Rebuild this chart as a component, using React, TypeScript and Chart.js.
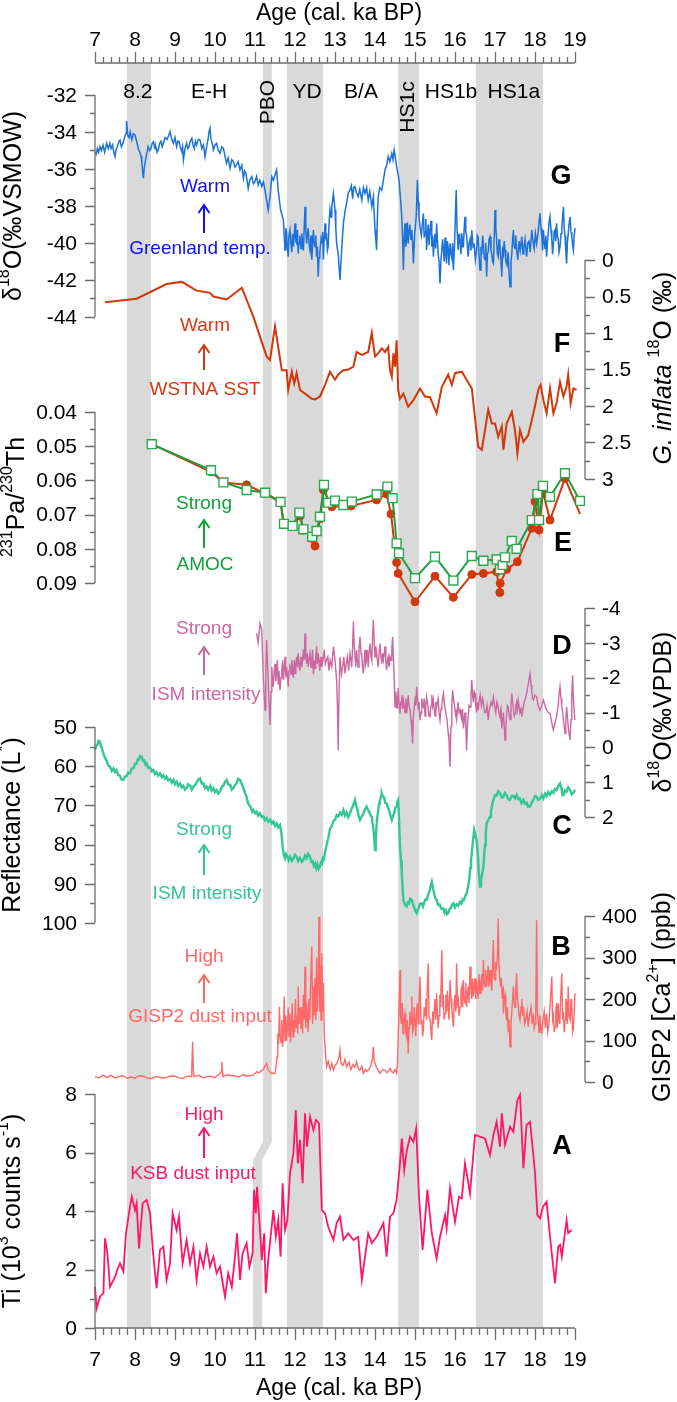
import React, { useEffect, useRef } from 'react';
import { Chart, registerables } from 'chart.js';

Chart.register(...registerables);

const FONT = '"Liberation Sans", Arial, Helvetica, sans-serif';
const W = 677;
const H = 1402;

// ---------------- data ----------------
const ageTicks = [7, 8, 9, 10, 11, 12, 13, 14, 15, 16, 17, 18, 19];

// G: Greenland d18O (permil VSMOW)
const greenlandD18O: number[][] = [
  [7.0, -35.06], [7.03, -35.2], [7.06, -34.9], [7.09, -35.1], [7.125, -34.79], [7.16, -35.0], [7.2, -34.7],
  [7.24, -35.1], [7.29, -34.61], [7.33, -34.9], [7.37, -34.6], [7.4, -34.9], [7.44, -34.7], [7.47, -35.1],
  [7.5, -35.33], [7.53, -34.9], [7.56, -34.8], [7.6, -34.5], [7.625, -34.43], [7.66, -34.8], [7.7, -34.6],
  [7.74, -34.3], [7.775, -34.07], [7.79, -33.41], [7.82, -34.2], [7.85, -34.3], [7.88, -34.0], [7.92, -34.43],
  [7.96, -34.1], [8.0, -34.16], [8.04, -34.5], [8.08, -34.88], [8.12, -35.1], [8.15, -35.3], [8.17, -35.6],
  [8.19, -36.1], [8.21, -36.5], [8.23, -36.0], [8.25, -35.69], [8.29, -35.2], [8.33, -34.79], [8.37, -35.0],
  [8.4, -34.9], [8.43, -34.6], [8.46, -34.52], [8.5, -34.9], [8.52, -34.8], [8.55, -35.1], [8.58, -34.97],
  [8.62, -34.6], [8.65, -34.5], [8.68, -34.8], [8.71, -34.61], [8.75, -34.3], [8.8, -34.4], [8.84, -34.2],
  [8.875, -33.98], [8.92, -34.4], [8.96, -34.61], [9.0, -34.3], [9.04, -34.79], [9.07, -34.5], [9.1, -34.5],
  [9.13, -34.8], [9.17, -35.06], [9.19, -34.8], [9.21, -35.51], [9.25, -34.9], [9.29, -34.61], [9.32, -34.9],
  [9.35, -34.8], [9.38, -34.5], [9.42, -34.34], [9.45, -34.7], [9.48, -34.9], [9.51, -34.5], [9.54, -34.7],
  [9.58, -34.4], [9.625, -34.43], [9.67, -34.9], [9.71, -34.7], [9.73, -35.0], [9.75, -35.33], [9.79, -34.8],
  [9.83, -34.34], [9.85, -34.0], [9.875, -33.8], [9.9, -34.4], [9.93, -34.6], [9.96, -34.97], [10.0, -34.7],
  [10.04, -34.61], [10.08, -35.0], [10.125, -35.15], [10.17, -34.8], [10.21, -34.88], [10.25, -35.3],
  [10.29, -35.69], [10.33, -35.4], [10.375, -35.96], [10.42, -35.5], [10.46, -35.6], [10.5, -35.9],
  [10.54, -35.78], [10.58, -35.6], [10.625, -36.05], [10.67, -35.8], [10.71, -36.5], [10.74, -36.1],
  [10.77, -36.2], [10.8, -36.6], [10.83, -37.05], [10.87, -36.6], [10.92, -36.41], [10.96, -36.8], [11.0, -36.68],
  [11.04, -36.4], [11.08, -36.86], [11.12, -36.6], [11.17, -36.95], [11.21, -36.7], [11.25, -37.14],
  [11.29, -37.68], [11.33, -38.22], [11.375, -37.5], [11.42, -36.41], [11.46, -36.6], [11.5, -36.32],
  [11.54, -36.05], [11.58, -37.14], [11.64, -38.22], [11.71, -38.76], [11.75, -40.38], [11.77, -39.2],
  [11.79, -39.48], [11.81, -40.2], [11.83, -40.74], [11.85, -39.6], [11.875, -39.3], [11.9, -40.1],
  [11.92, -40.5], [11.94, -39.5], [11.96, -40.2], [11.98, -39.6], [12.0, -38.94], [12.02, -39.9], [12.04, -40.0],
  [12.06, -39.3], [12.08, -40.56], [12.1, -40.0], [12.12, -39.6], [12.15, -40.3], [12.17, -39.48], [12.19, -40.1],
  [12.21, -40.4], [12.23, -39.2], [12.25, -38.04], [12.27, -39.3], [12.29, -40.02], [12.31, -39.5], [12.33, -39.2],
  [12.35, -40.0], [12.375, -40.38], [12.4, -39.6], [12.42, -40.9], [12.44, -40.1], [12.46, -39.3], [12.48, -40.0],
  [12.5, -40.2], [12.52, -39.6], [12.54, -40.74], [12.56, -40.2], [12.58, -41.82], [12.6, -40.8], [12.62, -40.5],
  [12.65, -39.8], [12.67, -40.02], [12.69, -39.4], [12.71, -40.9], [12.73, -39.8], [12.75, -38.94], [12.77, -39.7],
  [12.79, -39.6], [12.81, -40.4], [12.83, -40.2], [12.85, -39.0], [12.875, -38.2], [12.9, -38.6], [12.92, -38.04],
  [12.96, -37.32], [13.0, -38.22], [13.02, -39.2], [13.04, -40.02], [13.08, -40.6], [13.125, -42.0],
  [13.17, -40.2], [13.21, -38.94], [13.25, -38.3], [13.29, -37.86], [13.33, -37.3], [13.375, -37.14],
  [13.41, -36.9], [13.44, -37.6], [13.47, -37.0], [13.5, -36.95], [13.54, -37.3], [13.58, -37.5], [13.62, -37.1],
  [13.67, -37.68], [13.71, -37.0], [13.75, -37.32], [13.79, -37.0], [13.83, -37.68], [13.87, -37.2],
  [13.92, -38.04], [13.96, -37.5], [14.0, -39.3], [14.02, -39.8], [14.04, -40.38], [14.06, -38.6], [14.08, -37.5],
  [14.12, -37.0], [14.17, -37.14], [14.21, -36.6], [14.25, -36.05], [14.29, -35.8], [14.33, -35.33],
  [14.37, -35.6], [14.42, -35.15], [14.45, -35.5], [14.48, -34.97], [14.51, -35.4], [14.54, -35.87],
  [14.57, -36.2], [14.6, -36.59], [14.63, -37.4], [14.67, -38.58], [14.69, -39.8], [14.71, -41.46],
  [14.73, -39.6], [14.75, -38.94], [14.77, -40.2], [14.79, -39.8], [14.81, -38.9], [14.83, -40.02],
  [14.87, -39.0], [14.9, -39.8], [14.92, -39.3], [14.94, -40.0], [14.96, -41.1], [14.99, -39.6], [15.03, -38.58],
  [15.06, -36.59], [15.08, -37.8], [15.1, -38.58], [15.13, -39.2], [15.16, -39.6], [15.19, -38.8], [15.21, -38.4],
  [15.23, -39.7], [15.25, -39.4], [15.27, -38.7], [15.29, -40.38], [15.31, -39.6], [15.33, -39.0], [15.35, -40.1],
  [15.375, -39.3], [15.4, -38.8], [15.42, -40.2], [15.44, -39.6], [15.46, -40.74], [15.48, -40.0], [15.5, -39.5],
  [15.52, -40.3], [15.54, -38.94], [15.56, -39.8], [15.58, -40.6], [15.6, -41.0], [15.625, -42.18],
  [15.65, -40.9], [15.67, -40.9], [15.69, -39.8], [15.71, -40.38], [15.73, -41.0], [15.75, -39.7],
  [15.77, -40.6], [15.79, -41.1], [15.81, -39.9], [15.83, -40.3], [15.85, -41.2], [15.875, -40.02],
  [15.9, -40.6], [15.92, -40.8], [15.94, -40.0], [15.96, -41.46], [15.99, -40.0], [16.01, -38.5], [16.03, -37.14],
  [16.05, -39.2], [16.08, -40.38], [16.1, -39.5], [16.12, -39.8], [16.15, -40.6], [16.17, -39.48], [16.19, -40.2],
  [16.21, -40.2], [16.23, -39.2], [16.25, -38.58], [16.27, -39.4], [16.29, -39.6], [16.31, -40.2], [16.33, -40.74],
  [16.35, -40.0], [16.375, -39.8], [16.4, -40.4], [16.42, -39.3], [16.45, -40.2], [16.48, -40.1], [16.51, -40.9],
  [16.54, -40.38], [16.56, -39.6], [16.58, -39.7], [16.6, -40.6], [16.625, -41.46], [16.65, -40.2],
  [16.67, -40.6], [16.69, -39.6], [16.71, -40.02], [16.73, -40.8], [16.75, -40.9], [16.77, -40.0],
  [16.79, -41.82], [16.81, -40.6], [16.83, -40.5], [16.85, -39.8], [16.875, -39.66], [16.9, -40.4],
  [16.92, -40.6], [16.94, -41.0], [16.96, -41.1], [16.98, -39.8], [17.0, -38.22], [17.02, -39.2], [17.04, -39.8],
  [17.06, -40.6], [17.08, -40.74], [17.1, -39.8], [17.12, -40.1], [17.15, -41.0], [17.17, -41.82], [17.19, -40.4],
  [17.21, -40.6], [17.23, -39.9], [17.25, -40.38], [17.27, -41.0], [17.3, -41.2], [17.33, -40.5], [17.35, -41.6],
  [17.375, -42.36], [17.4, -41.0], [17.42, -40.6], [17.44, -39.8], [17.46, -39.3], [17.48, -40.2], [17.5, -40.3],
  [17.52, -39.6], [17.54, -40.38], [17.57, -40.9], [17.6, -39.9], [17.63, -40.4], [17.67, -39.66], [17.7, -40.6],
  [17.72, -40.3], [17.75, -39.8], [17.79, -40.74], [17.82, -40.0], [17.85, -39.9], [17.88, -40.5], [17.92, -39.3],
  [17.95, -39.9], [17.98, -40.3], [18.01, -39.5], [18.04, -40.02], [18.06, -39.7], [18.08, -39.4], [18.1, -38.9],
  [18.125, -38.4], [18.15, -39.2], [18.17, -39.6], [18.19, -40.4], [18.21, -39.3], [18.23, -39.9], [18.25, -40.3],
  [18.27, -39.6], [18.29, -40.74], [18.31, -40.0], [18.33, -39.5], [18.35, -38.9], [18.375, -38.58], [18.4, -39.3],
  [18.42, -39.8], [18.44, -40.6], [18.46, -40.02], [18.48, -39.4], [18.5, -39.3], [18.52, -39.9], [18.54, -38.94],
  [18.56, -39.6], [18.58, -39.8], [18.6, -40.5], [18.625, -40.2], [18.65, -39.5], [18.67, -39.2], [18.69, -38.6],
  [18.71, -38.04], [18.73, -39.2], [18.75, -39.6], [18.77, -40.4], [18.79, -41.1], [18.81, -40.0], [18.83, -39.5],
  [18.85, -39.0], [18.875, -38.58], [18.9, -39.4], [18.92, -39.6], [18.94, -40.1], [18.96, -40.38], [18.98, -39.6],
  [19.0, -39.2], [19.02, -38.8], [19.04, -38.4], [19.06, -39.0], [19.08, -39.2], [19.1, -38.7], [19.125, -39.84],
];

// F: G. inflata d18O (permil)
const inflataD18O: number[][] = [
  [7.25, 0.58], [8.04, 0.53], [8.79, 0.33], [9.17, 0.3], [9.54, 0.42], [9.67, 0.43], [9.875, 0.45], [9.96, 0.5],
  [10.29, 0.54], [10.67, 0.38], [10.96, 0.78], [11.29, 1.32], [11.375, 1.37], [11.5, 0.91], [11.67, 1.51],
  [11.79, 1.51], [11.83, 1.78], [11.92, 1.53], [11.98, 1.69], [12.04, 1.55], [12.125, 1.78], [12.25, 1.83],
  [12.42, 1.9], [12.5, 1.91], [12.625, 1.87], [12.75, 1.71], [12.875, 1.53], [13.0, 1.64], [13.08, 1.57],
  [13.21, 1.51], [13.33, 1.5], [13.46, 1.46], [13.54, 1.26], [13.67, 1.3], [13.83, 1.26], [13.92, 1.0],
  [14.0, 1.32], [14.08, 1.28], [14.17, 1.21], [14.25, 1.26], [14.33, 1.19], [14.375, 1.51], [14.42, 1.6],
  [14.46, 1.28], [14.5, 1.46], [14.54, 1.1], [14.58, 1.78], [14.625, 1.9], [14.71, 1.83], [14.83, 2.01],
  [14.96, 1.92], [15.125, 1.76], [15.25, 1.87], [15.375, 1.88], [15.54, 2.1], [15.67, 1.74], [15.83, 1.57],
  [15.92, 1.71], [16.0, 1.55], [16.17, 1.53], [16.29, 1.64], [16.42, 1.76], [16.58, 2.56], [16.67, 2.6],
  [16.75, 2.33], [16.83, 2.05], [16.92, 2.24], [17.0, 2.24], [17.08, 2.42], [17.17, 2.28], [17.21, 2.6],
  [17.29, 2.24], [17.42, 2.08], [17.5, 2.33], [17.56, 2.65], [17.625, 2.33], [17.71, 2.49], [17.83, 2.4],
  [17.92, 2.19], [18.0, 2.0], [18.08, 1.78], [18.14, 1.71], [18.21, 1.92], [18.29, 2.1], [18.375, 1.76],
  [18.46, 2.1], [18.54, 1.96], [18.625, 1.67], [18.71, 1.87], [18.79, 1.73], [18.83, 1.57], [18.89, 1.96],
  [18.96, 1.76], [19.04, 1.78], [19.125, 1.87],
];

// E: 231Pa/230Th, two records
const paThGreen: number[][] = [
  [8.42, 0.0494], [9.9, 0.057], [10.21, 0.0606], [10.79, 0.0628], [11.25, 0.0636], [11.64, 0.0663], [11.725, 0.0727],
  [11.94, 0.0733], [12.11, 0.0694], [12.21, 0.0743], [12.43, 0.0765], [12.54, 0.0748], [12.625, 0.0706],
  [12.725, 0.0613], [12.83, 0.0665], [13.0, 0.0659], [13.21, 0.0672], [13.42, 0.0662], [14.04, 0.0641],
  [14.31, 0.0618], [14.44, 0.0652], [14.54, 0.0784], [14.6, 0.0813], [15.0, 0.0886], [15.5, 0.0823],
  [15.96, 0.0893], [16.42, 0.0821], [16.71, 0.0835], [17.04, 0.0831], [17.125, 0.086], [17.19, 0.0847],
  [17.25, 0.0825], [17.42, 0.0777], [17.54, 0.08], [17.92, 0.0716], [18.06, 0.064], [18.1, 0.0716],
  [18.2, 0.0616], [18.375, 0.0648], [18.75, 0.0579], [19.125, 0.066],
];
const paThRed: number[][] = [
  [8.42, 0.0494], [9.9, 0.0575], [10.21, 0.0606], [10.79, 0.0613], [11.25, 0.0638], [11.64, 0.0665], [11.71, 0.0725],
  [11.94, 0.0735], [12.125, 0.0704], [12.21, 0.0745], [12.43, 0.077], [12.5, 0.0792], [12.625, 0.0712],
  [12.71, 0.0628], [12.92, 0.0677], [13.4, 0.0675], [14.04, 0.0657], [14.29, 0.064], [14.4, 0.0698],
  [14.54, 0.084], [14.58, 0.0872], [15.0, 0.0955], [15.5, 0.088], [15.96, 0.0942], [16.42, 0.0875],
  [16.71, 0.0872], [17.04, 0.0867], [17.12, 0.0928], [17.13, 0.0901], [17.29, 0.086], [17.56, 0.0838],
  [17.92, 0.074], [18.0, 0.0662], [18.1, 0.0745], [18.2, 0.0633], [18.375, 0.0716], [18.75, 0.0594],
  [19.125, 0.0698],
];

// D: speleothem d18O (permil VPDB)
const ismD18O: number[][] = [
  [11.04, -3.27], [11.08, -3.0], [11.125, -3.56], [11.17, -3.37], [11.19, -2.6], [11.21, -1.93], [11.25, -1.07],
  [11.27, -2.2], [11.29, -3.08], [11.31, -2.5], [11.33, -1.93], [11.35, -1.3], [11.375, -0.64], [11.4, -1.6],
  [11.42, -2.31], [11.44, -1.9], [11.46, -1.74], [11.48, -2.2], [11.5, -2.4], [11.52, -1.9], [11.54, -2.12],
  [11.56, -2.5], [11.58, -1.8], [11.6, -2.2], [11.625, -1.64], [11.65, -2.0], [11.67, -2.2], [11.69, -2.5],
  [11.71, -1.93], [11.73, -2.3], [11.75, -2.6], [11.77, -2.0], [11.79, -2.31], [11.81, -2.1], [11.83, -1.74],
  [11.85, -2.2], [11.87, -2.4], [11.9, -2.1], [11.92, -2.51], [11.94, -2.2], [11.96, -2.0], [11.98, -2.5],
  [12.0, -2.12], [12.02, -2.4], [12.04, -2.6], [12.06, -2.3], [12.08, -2.7], [12.1, -2.4], [12.12, -2.2],
  [12.15, -2.6], [12.17, -2.31], [12.19, -2.5], [12.21, -2.8], [12.23, -2.5], [12.25, -3.27], [12.27, -2.6],
  [12.29, -2.4], [12.31, -2.7], [12.33, -2.31], [12.35, -2.5], [12.375, -2.7], [12.4, -2.3], [12.42, -2.51],
  [12.44, -2.8], [12.46, -2.1], [12.48, -2.5], [12.5, -2.27], [12.52, -2.6], [12.54, -2.9], [12.56, -2.4],
  [12.58, -2.7], [12.6, -2.5], [12.62, -2.2], [12.65, -2.6], [12.67, -2.31], [12.7, -2.5], [12.73, -2.8],
  [12.76, -2.4], [12.79, -2.51], [12.82, -2.6], [12.85, -2.2], [12.88, -2.5], [12.92, -2.31], [12.96, -2.89],
  [13.0, -2.5], [13.04, -1.93], [13.06, -1.2], [13.08, 0.08], [13.1, -1.5], [13.125, -2.6], [13.16, -2.1],
  [13.19, -2.3], [13.22, -2.6], [13.25, -2.12], [13.28, -2.4], [13.31, -2.6], [13.34, -2.2], [13.375, -2.7],
  [13.4, -2.5], [13.42, -2.3], [13.44, -2.9], [13.46, -3.61], [13.48, -2.9], [13.5, -2.6], [13.52, -2.3],
  [13.54, -2.79], [13.56, -2.5], [13.58, -2.3], [13.6, -2.8], [13.625, -3.17], [13.65, -2.7], [13.67, -2.6],
  [13.69, -2.3], [13.71, -2.12], [13.73, -2.5], [13.75, -2.8], [13.77, -2.4], [13.79, -2.51], [13.81, -2.8],
  [13.83, -2.3], [13.85, -2.7], [13.875, -2.98], [13.9, -2.6], [13.92, -2.5], [13.94, -3.2], [13.96, -3.66],
  [13.98, -3.0], [14.0, -2.6], [14.02, -2.9], [14.04, -2.7], [14.06, -2.5], [14.08, -2.3], [14.1, -2.7],
  [14.125, -2.98], [14.15, -2.6], [14.17, -2.4], [14.19, -2.7], [14.21, -2.51], [14.23, -2.7], [14.25, -2.9],
  [14.27, -2.5], [14.29, -2.22], [14.31, -2.5], [14.33, -2.6], [14.35, -2.3], [14.375, -2.6], [14.4, -2.5],
  [14.42, -2.8], [14.44, -3.17], [14.46, -2.6], [14.48, -1.93], [14.5, -1.16], [14.52, -1.6], [14.54, -1.36],
  [14.56, -1.1], [14.58, -1.7], [14.6, -1.3], [14.625, -0.97], [14.65, -1.3], [14.67, -1.5], [14.69, -1.1],
  [14.71, -1.36], [14.73, -1.2], [14.75, -1.0], [14.77, -1.4], [14.79, -0.97], [14.81, -1.2], [14.83, -1.5],
  [14.85, -1.2], [14.875, -1.07], [14.9, -0.8], [14.92, -0.5], [14.94, -0.11], [14.96, -0.9], [15.0, -1.36],
  [15.02, -1.2], [15.04, -1.74], [15.06, -1.4], [15.08, -1.1], [15.1, -1.3], [15.125, -0.78], [15.15, -1.0],
  [15.17, -1.4], [15.19, -1.2], [15.21, -1.16], [15.23, -1.4], [15.25, -0.9], [15.27, -1.2], [15.29, -1.45],
  [15.31, -1.3], [15.33, -1.1], [15.35, -0.9], [15.375, -0.88], [15.4, -1.2], [15.42, -1.5], [15.44, -1.2],
  [15.46, -1.36], [15.48, -1.1], [15.5, -0.9], [15.52, -1.3], [15.54, -1.16], [15.56, -1.3], [15.58, -1.4],
  [15.6, -1.0], [15.625, -0.78], [15.65, -1.1], [15.67, -1.2], [15.69, -1.4], [15.71, -1.55], [15.74, -1.2],
  [15.77, -1.0], [15.8, -0.8], [15.83, -0.4], [15.85, -0.2], [15.875, 0.56], [15.9, -0.6], [15.92, -1.2],
  [15.94, -1.64], [15.97, -1.3], [16.0, -1.1], [16.02, -0.9], [16.04, -0.78], [16.06, -1.1], [16.08, -1.3],
  [16.1, -1.0], [16.125, -1.07], [16.15, -0.9], [16.17, -0.8], [16.19, -1.1], [16.21, -0.54], [16.23, -0.8],
  [16.25, -1.0], [16.27, -0.6], [16.29, 0.08], [16.31, -0.6], [16.33, -0.9], [16.35, -1.2], [16.375, -1.16],
  [16.4, -1.5], [16.42, -1.93], [16.44, -1.5], [16.46, -1.3], [16.48, -1.6], [16.5, -1.55], [16.52, -1.2],
  [16.54, -1.0], [16.56, -1.3], [16.58, -1.07], [16.6, -1.3], [16.63, -1.5], [16.66, -1.2], [16.69, -1.4],
  [16.71, -1.26], [16.74, -1.0], [16.77, -1.0], [16.8, -1.2], [16.83, -0.78], [16.86, -1.1], [16.9, -1.3],
  [16.93, -1.2], [16.96, -1.45], [16.99, -1.2], [17.02, -1.0], [17.05, -1.3], [17.08, -1.16], [17.1, -1.0],
  [17.12, -0.9], [17.15, -1.1], [17.17, -0.54], [17.19, -0.8], [17.21, -1.0], [17.23, -0.6], [17.25, -0.21],
  [17.27, -0.6], [17.29, -0.9], [17.31, -1.2], [17.33, -1.16], [17.35, -1.0], [17.375, -0.8], [17.4, -1.2],
  [17.42, -1.55], [17.44, -1.3], [17.46, -1.1], [17.48, -0.9], [17.5, -0.97], [17.52, -1.2], [17.54, -1.3],
  [17.56, -1.1], [17.58, -1.36], [17.6, -1.2], [17.625, -1.0], [17.65, -1.1], [17.67, -0.88], [17.7, -1.1],
  [17.73, -1.3], [17.76, -1.4], [17.79, -1.55], [17.83, -1.8], [17.875, -2.12], [17.9, -1.8], [17.92, -1.6],
  [17.94, -1.4], [17.96, -1.36], [18.0, -1.5], [18.04, -1.45], [18.08, -1.2], [18.125, -1.07], [18.17, -1.2],
  [18.21, -1.36], [18.25, -1.2], [18.29, -1.07], [18.33, -1.0], [18.375, -0.97], [18.42, -0.7], [18.46, -0.49],
  [18.5, -0.7], [18.54, -0.88], [18.58, -1.2], [18.6, -1.5], [18.625, -1.74], [18.65, -1.4], [18.67, -1.2],
  [18.69, -1.0], [18.71, -0.78], [18.73, -0.6], [18.75, -0.4], [18.77, -0.8], [18.79, -1.16], [18.81, -0.9],
  [18.83, -0.6], [18.85, -0.4], [18.875, -0.21], [18.9, -0.8], [18.92, -1.5], [18.94, -2.07], [18.96, -1.4],
  [18.98, -1.0], [19.0, -0.78], [19.02, -1.0], [19.04, -1.16], [19.06, -0.8], [19.08, -0.54], [19.1, -1.3],
  [19.11, -0.5], [19.125, 1.05],
];

// C: reflectance L*
const reflectance: number[][] = [
  [7.0, 55.9], [7.03, 54.8], [7.06, 54.6], [7.09, 53.5], [7.125, 53.7], [7.15, 55.0], [7.17, 55.4], [7.19, 56.2],
  [7.21, 56.7], [7.25, 57.9], [7.29, 58.6], [7.33, 59.8], [7.375, 60.1], [7.42, 61.2], [7.46, 60.6], [7.5, 61.5],
  [7.54, 61.0], [7.58, 62.2], [7.62, 62.4], [7.66, 63.4], [7.71, 63.5], [7.75, 62.6], [7.79, 62.6], [7.83, 61.6],
  [7.875, 61.8], [7.92, 60.6], [7.96, 60.5], [8.0, 59.4], [8.04, 59.3], [8.07, 58.2], [8.1, 58.3], [8.13, 57.4],
  [8.17, 57.6], [8.2, 58.6], [8.23, 58.5], [8.26, 59.6], [8.29, 59.3], [8.33, 60.4], [8.38, 60.4], [8.42, 61.3],
  [8.46, 61.0], [8.5, 62.0], [8.54, 61.6], [8.58, 62.4], [8.625, 61.8], [8.67, 62.8], [8.71, 62.3], [8.75, 63.2],
  [8.79, 62.7], [8.83, 63.6], [8.88, 63.3], [8.92, 64.2], [8.96, 63.5], [9.0, 64.6], [9.04, 64.0], [9.08, 65.0],
  [9.125, 64.4], [9.17, 65.4], [9.21, 65.0], [9.25, 66.0], [9.29, 65.6], [9.33, 64.6], [9.38, 65.0], [9.42, 66.0],
  [9.46, 65.2], [9.5, 64.8], [9.54, 64.2], [9.58, 63.4], [9.625, 63.1], [9.67, 64.4], [9.71, 64.4], [9.75, 65.6],
  [9.79, 65.2], [9.83, 66.0], [9.88, 65.0], [9.92, 66.2], [9.96, 65.6], [10.0, 66.6], [10.04, 66.1], [10.08, 67.0],
  [10.125, 66.5], [10.17, 65.2], [10.21, 65.0], [10.25, 64.0], [10.29, 63.5], [10.33, 64.6], [10.38, 64.8],
  [10.42, 66.0], [10.46, 65.6], [10.5, 64.8], [10.54, 64.4], [10.58, 63.2], [10.625, 63.5], [10.67, 64.6],
  [10.71, 65.6], [10.75, 66.8], [10.79, 67.8], [10.81, 68.8], [10.83, 69.5], [10.87, 70.2], [10.9, 70.6],
  [10.93, 71.6], [10.96, 71.2], [11.0, 72.0], [11.04, 71.6], [11.08, 72.6], [11.125, 72.0], [11.17, 73.0],
  [11.21, 72.8], [11.25, 73.8], [11.29, 73.3], [11.33, 74.2], [11.38, 73.6], [11.42, 74.6], [11.46, 74.1],
  [11.5, 75.2], [11.54, 74.6], [11.58, 75.6], [11.625, 75.0], [11.66, 77.0], [11.69, 80.5], [11.72, 82.6],
  [11.75, 83.5], [11.78, 82.4], [11.81, 83.0], [11.84, 84.0], [11.875, 83.1], [11.92, 84.2], [11.96, 83.6],
  [12.0, 82.6], [12.04, 83.1], [12.08, 84.2], [12.12, 83.4], [12.17, 84.4], [12.21, 83.9], [12.25, 82.8],
  [12.29, 83.5], [12.33, 82.4], [12.375, 83.1], [12.41, 84.4], [12.44, 84.2], [12.47, 85.4], [12.5, 84.8],
  [12.53, 86.0], [12.56, 85.0], [12.59, 86.2], [12.625, 85.6], [12.65, 84.6], [12.67, 84.8], [12.69, 83.6],
  [12.71, 83.9], [12.75, 82.0], [12.79, 80.1], [12.83, 78.4], [12.875, 76.0], [12.92, 75.2], [12.96, 74.0],
  [13.0, 73.6], [13.04, 72.5], [13.08, 72.8], [13.125, 71.8], [13.17, 72.4], [13.21, 71.2], [13.25, 72.6],
  [13.29, 71.8], [13.33, 73.0], [13.375, 72.0], [13.41, 71.0], [13.44, 70.3], [13.47, 69.6], [13.5, 68.6],
  [13.53, 70.2], [13.56, 71.0], [13.59, 72.6], [13.625, 73.7], [13.67, 72.8], [13.71, 72.0], [13.75, 71.0],
  [13.79, 70.3], [13.82, 71.0], [13.85, 71.5], [13.89, 72.6], [13.92, 72.9], [13.94, 74.6], [13.96, 76.0],
  [13.98, 78.5], [14.0, 81.4], [14.02, 78.0], [14.04, 75.0], [14.06, 72.8], [14.08, 71.2], [14.1, 69.6],
  [14.12, 68.9], [14.15, 67.6], [14.17, 66.9], [14.2, 67.8], [14.23, 68.0], [14.26, 69.4], [14.29, 69.5],
  [14.33, 70.8], [14.36, 71.5], [14.39, 72.8], [14.42, 73.7], [14.45, 72.6], [14.48, 72.0], [14.51, 70.6],
  [14.54, 70.3], [14.56, 69.0], [14.58, 68.6], [14.6, 73.0], [14.625, 80.5], [14.65, 84.0], [14.67, 87.3],
  [14.69, 91.0], [14.71, 94.1], [14.75, 95.4], [14.79, 95.8], [14.82, 94.8], [14.85, 95.0], [14.88, 93.8],
  [14.92, 94.1], [14.95, 95.2], [14.98, 96.0], [15.01, 97.0], [15.04, 97.5], [15.07, 96.6], [15.1, 96.0],
  [15.13, 95.0], [15.17, 95.0], [15.2, 95.8], [15.23, 94.8], [15.26, 94.0], [15.29, 94.1], [15.32, 93.0],
  [15.36, 92.0], [15.39, 90.6], [15.42, 89.5], [15.45, 91.2], [15.48, 92.5], [15.51, 93.8], [15.54, 94.1],
  [15.58, 95.4], [15.62, 95.3], [15.66, 96.4], [15.71, 96.3], [15.74, 97.4], [15.77, 96.8], [15.8, 97.8],
  [15.83, 97.5], [15.87, 96.4], [15.9, 96.2], [15.93, 95.2], [15.96, 95.0], [16.0, 96.0], [16.04, 95.2],
  [16.08, 95.6], [16.125, 94.6], [16.16, 95.0], [16.19, 94.0], [16.22, 94.2], [16.25, 93.3], [16.29, 92.4],
  [16.33, 90.7], [16.36, 88.6], [16.38, 86.0], [16.4, 84.0], [16.42, 82.2], [16.45, 79.0], [16.48, 76.3],
  [16.51, 77.6], [16.54, 78.8], [16.56, 81.0], [16.58, 84.0], [16.6, 88.0], [16.625, 90.7], [16.65, 89.2],
  [16.67, 88.0], [16.69, 86.8], [16.71, 85.6], [16.73, 82.6], [16.75, 80.0], [16.77, 77.0], [16.79, 74.6],
  [16.83, 73.8], [16.875, 72.9], [16.9, 71.4], [16.92, 70.5], [16.94, 69.2], [16.96, 68.6], [17.0, 67.4],
  [17.04, 67.5], [17.08, 66.4], [17.125, 66.9], [17.17, 68.0], [17.21, 67.8], [17.25, 66.8], [17.29, 67.4],
  [17.33, 68.4], [17.375, 68.6], [17.42, 67.6], [17.46, 67.6], [17.5, 68.2], [17.54, 67.3], [17.58, 68.4],
  [17.62, 68.2], [17.66, 69.4], [17.71, 68.6], [17.75, 69.6], [17.79, 69.3], [17.83, 70.4], [17.875, 70.3],
  [17.92, 69.2], [17.96, 68.6], [18.0, 67.6], [18.04, 67.8], [18.08, 68.6], [18.12, 68.4], [18.17, 67.4],
  [18.21, 68.2], [18.25, 67.0], [18.29, 67.6], [18.33, 66.6], [18.375, 67.3], [18.42, 66.4], [18.46, 66.8],
  [18.5, 65.8], [18.54, 66.1], [18.58, 65.0], [18.625, 64.4], [18.65, 65.4], [18.67, 66.0], [18.69, 67.4],
  [18.71, 67.3], [18.75, 66.2], [18.79, 66.5], [18.83, 65.4], [18.875, 66.1], [18.92, 67.2], [18.96, 66.8],
  [19.0, 66.0], [19.04, 66.9], [19.08, 65.8], [19.125, 66.1],
];

// B: GISP2 Ca2+ (ppb)
const gispCa: number[][] = [
  [7.0, 13], [7.1, 10], [7.2, 16], [7.3, 11], [7.4, 16], [7.5, 10], [7.58, 13], [7.7, 15], [7.8, 9], [7.9, 12],
  [8.0, 9], [8.1, 15], [8.2, 14], [8.3, 10], [8.4, 8], [8.5, 13], [8.6, 12], [8.7, 9], [8.79, 11], [8.9, 15],
  [9.0, 14], [9.1, 10], [9.2, 9], [9.3, 14], [9.4, 13], [9.42, 30], [9.44, 97], [9.46, 25], [9.48, 13], [9.6, 16],
  [9.7, 10], [9.85, 14], [10.0, 11], [10.1, 18], [10.15, 25], [10.17, 49], [10.19, 20], [10.2, 13], [10.3, 17],
  [10.46, 15], [10.6, 12], [10.7, 18], [10.8, 14], [10.96, 17], [11.05, 25], [11.1, 22], [11.2, 30], [11.29, 45],
  [11.33, 30], [11.4, 21], [11.5, 21], [11.53, 40], [11.55, 60], [11.57, 117], [11.59, 90], [11.61, 181],
  [11.63, 110], [11.65, 95], [11.67, 150], [11.69, 85], [11.71, 120], [11.73, 206], [11.75, 100], [11.77, 160],
  [11.79, 101], [11.81, 130], [11.83, 180], [11.85, 110], [11.87, 165], [11.89, 95], [11.91, 140], [11.93, 190],
  [11.95, 109], [11.97, 150], [11.99, 120], [12.01, 200], [12.03, 130], [12.05, 160], [12.07, 117], [12.08, 230],
  [12.1, 140], [12.13, 180], [12.15, 130], [12.17, 180], [12.19, 117], [12.21, 210], [12.23, 150], [12.25, 278],
  [12.27, 130], [12.29, 190], [12.31, 150], [12.33, 120], [12.35, 200], [12.37, 150], [12.39, 240], [12.42, 326],
  [12.44, 140], [12.46, 230], [12.48, 160], [12.5, 250], [12.52, 150], [12.54, 300], [12.56, 170], [12.58, 230],
  [12.6, 398], [12.62, 170], [12.64, 280], [12.65, 149], [12.67, 310], [12.69, 170], [12.71, 240], [12.73, 117],
  [12.76, 70], [12.79, 37], [12.83, 50], [12.88, 30], [12.92, 45], [12.96, 29], [13.0, 40], [13.05, 45],
  [13.1, 60], [13.125, 77], [13.15, 45], [13.2, 40], [13.25, 55], [13.29, 37], [13.35, 48], [13.4, 30],
  [13.45, 42], [13.5, 35], [13.54, 49], [13.58, 33], [13.62, 28], [13.67, 38], [13.71, 21], [13.76, 30],
  [13.8, 26], [13.85, 30], [13.9, 40], [13.94, 60], [13.96, 85], [13.98, 50], [14.04, 35], [14.08, 28],
  [14.125, 21], [14.2, 30], [14.25, 28], [14.3, 22], [14.375, 33], [14.42, 25], [14.46, 22], [14.5, 30],
  [14.54, 21], [14.56, 40], [14.58, 109], [14.6, 180], [14.625, 270], [14.64, 160], [14.66, 140], [14.68, 190],
  [14.7, 117], [14.72, 150], [14.75, 165], [14.77, 120], [14.79, 110], [14.81, 150], [14.83, 69], [14.85, 130],
  [14.87, 170], [14.9, 140], [14.92, 206], [14.94, 120], [14.96, 130], [14.98, 180], [15.0, 149], [15.02, 110],
  [15.04, 170], [15.06, 190], [15.08, 140], [15.1, 200], [15.125, 254], [15.15, 140], [15.17, 150], [15.19, 110],
  [15.21, 125], [15.23, 180], [15.25, 160], [15.27, 200], [15.29, 150], [15.31, 230], [15.33, 286], [15.35, 160],
  [15.38, 150], [15.4, 120], [15.42, 101], [15.44, 170], [15.46, 140], [15.48, 170], [15.5, 200], [15.52, 150],
  [15.54, 214], [15.56, 170], [15.58, 130], [15.6, 160], [15.62, 210], [15.64, 180], [15.67, 318], [15.69, 190],
  [15.71, 200], [15.73, 150], [15.75, 165], [15.77, 210], [15.79, 170], [15.81, 220], [15.83, 180], [15.85, 150],
  [15.875, 246], [15.9, 200], [15.92, 180], [15.94, 150], [15.96, 133], [15.98, 190], [16.0, 210], [16.02, 170],
  [16.04, 286], [16.06, 190], [16.08, 200], [16.1, 160], [16.125, 181], [16.15, 220], [16.17, 230], [16.19, 180],
  [16.21, 246], [16.23, 200], [16.25, 190], [16.27, 240], [16.29, 181], [16.31, 210], [16.33, 230], [16.35, 190],
  [16.375, 278], [16.4, 220], [16.42, 200], [16.44, 250], [16.46, 206], [16.48, 230], [16.5, 250], [16.52, 200],
  [16.54, 246], [16.56, 220], [16.58, 200], [16.6, 260], [16.625, 214], [16.65, 240], [16.67, 260], [16.69, 220],
  [16.71, 294], [16.73, 240], [16.75, 230], [16.77, 270], [16.79, 230], [16.81, 250], [16.83, 280], [16.85, 230],
  [16.875, 270], [16.9, 240], [16.92, 220], [16.94, 280], [16.96, 342], [16.98, 250], [17.0, 246], [17.02, 290],
  [17.04, 280], [17.06, 300], [17.08, 394], [17.1, 280], [17.11, 260], [17.13, 240], [17.14, 230], [17.16, 250],
  [17.18, 200], [17.2, 230], [17.21, 165], [17.23, 200], [17.25, 210], [17.27, 170], [17.29, 149], [17.31, 180],
  [17.33, 120], [17.35, 150], [17.375, 85], [17.4, 140], [17.42, 170], [17.44, 200], [17.46, 230], [17.48, 190],
  [17.5, 180], [17.52, 220], [17.54, 262], [17.56, 200], [17.58, 190], [17.6, 160], [17.625, 149], [17.65, 180],
  [17.67, 200], [17.69, 160], [17.71, 181], [17.74, 140], [17.77, 150], [17.8, 170], [17.83, 133], [17.86, 160],
  [17.9, 180], [17.93, 140], [17.96, 165], [17.98, 130], [18.0, 140], [18.02, 180], [18.04, 390], [18.06, 170],
  [18.08, 149], [18.1, 120], [18.12, 160], [18.15, 130], [18.17, 117], [18.2, 150], [18.23, 170], [18.26, 130],
  [18.29, 165], [18.32, 120], [18.35, 140], [18.38, 190], [18.42, 254], [18.44, 150], [18.46, 160], [18.48, 120],
  [18.5, 133], [18.52, 170], [18.54, 190], [18.56, 130], [18.58, 189], [18.6, 150], [18.62, 140], [18.64, 200],
  [18.67, 262], [18.69, 150], [18.71, 170], [18.73, 120], [18.75, 149], [18.77, 200], [18.79, 190], [18.81, 140],
  [18.83, 230], [18.85, 160], [18.88, 150], [18.9, 200], [18.92, 181], [18.94, 120], [18.96, 130], [18.98, 170],
  [19.0, 214], [19.02, 140], [19.04, 160], [19.06, 150], [19.08, 120], [19.1, 180], [19.125, 165],
];

// A: Ti (10^3 counts/s)
const tiCounts: number[][] = [
  [7.0, 1.41], [7.04, 0.67], [7.125, 1.07], [7.21, 1.19], [7.25, 3.07], [7.31, 2.55], [7.375, 1.41], [7.5, 1.75],
  [7.56, 2.0], [7.625, 2.21], [7.71, 1.93], [7.775, 3.24], [7.875, 4.15], [7.92, 4.49], [8.0, 4.03], [8.04, 4.26],
  [8.1, 2.72], [8.19, 4.26], [8.29, 4.38], [8.375, 3.92], [8.46, 2.44], [8.54, 1.36], [8.625, 2.67], [8.71, 2.78],
  [8.79, 1.64], [8.875, 2.21], [8.94, 3.92], [9.04, 3.35], [9.1, 3.81], [9.19, 2.21], [9.29, 3.01], [9.375, 2.21],
  [9.46, 2.78], [9.54, 1.64], [9.625, 2.55], [9.71, 2.1], [9.79, 2.78], [9.875, 2.1], [9.96, 2.44], [10.04, 1.87],
  [10.125, 2.1], [10.25, 1.07], [10.33, 1.87], [10.42, 1.41], [10.5, 2.44], [10.55, 3.24], [10.625, 1.64],
  [10.69, 2.55], [10.79, 2.9], [10.86, 2.1], [10.94, 2.55], [10.975, 4.72], [11.02, 3.92], [11.05, 4.83],
  [11.125, 3.35], [11.17, 2.32], [11.23, 3.24], [11.27, 1.19], [11.33, 2.32], [11.39, 3.12], [11.46, 4.03],
  [11.52, 3.12], [11.58, 3.69], [11.64, 2.44], [11.69, 4.95], [11.75, 3.35], [11.81, 3.69], [11.875, 5.29],
  [11.96, 5.97], [12.02, 7.45], [12.07, 5.63], [12.125, 6.43], [12.19, 4.95], [12.25, 7.34], [12.3, 6.2],
  [12.375, 7.22], [12.46, 6.77], [12.525, 7.11], [12.6, 7.0], [12.67, 4.03], [12.75, 3.92], [12.83, 3.46],
  [12.96, 3.01], [13.04, 3.58], [13.125, 3.81], [13.21, 3.01], [13.33, 3.24], [13.46, 3.01], [13.58, 3.12],
  [13.67, 1.64], [13.75, 2.44], [13.83, 3.24], [13.92, 2.9], [14.04, 3.12], [14.125, 3.35], [14.21, 3.58],
  [14.29, 2.44], [14.375, 3.81], [14.46, 3.92], [14.54, 4.38], [14.625, 5.63], [14.67, 6.48], [14.73, 5.4],
  [14.79, 6.03], [14.875, 6.54], [14.96, 6.37], [15.03, 6.83], [15.1, 4.49], [15.19, 2.67], [15.31, 4.72],
  [15.42, 3.24], [15.54, 2.38], [15.625, 3.12], [15.75, 3.86], [15.79, 3.41], [15.875, 4.78], [16.0, 3.63],
  [16.1, 4.49], [16.17, 4.43], [16.25, 5.63], [16.375, 4.6], [16.5, 6.6], [16.625, 6.54], [16.75, 6.48],
  [16.875, 5.91], [16.96, 6.6], [17.04, 7.05], [17.125, 6.2], [17.17, 7.34], [17.25, 6.26], [17.375, 6.88],
  [17.46, 6.71], [17.56, 7.79], [17.625, 7.97], [17.71, 5.46], [17.79, 6.94], [17.875, 7.05], [17.96, 5.91],
  [18.0, 5.29], [18.06, 3.86], [18.125, 3.75], [18.2, 4.15], [18.29, 4.32], [18.375, 3.12], [18.5, 1.53],
  [18.58, 2.78], [18.625, 2.84], [18.67, 2.44], [18.79, 3.69], [18.83, 3.24], [18.92, 3.35],
];

// shaded intervals (ka)
const bandIntervals: number[][] = [[7.8, 8.4], [11.8, 12.7], [14.58, 15.1], [16.52, 18.2]];
const pboUpper = [11.2, 11.42];
const pboLower = [10.95, 11.18];
const pboBreakTi = [6.36, 5.74];
const periodLabels = ['8.2', 'E-H', 'YD', 'B/A', 'HS1b', 'HS1a'];
const periodAges = [8.07, 9.85, 12.3, 13.65, 15.9, 17.47];
const verticalPeriodLabels = ['PBO', 'HS1c'];
const verticalPeriodAges = [11.32, 14.83];

// axis tick values
const gTicks = [-32, -34, -36, -38, -40, -42, -44];
const fTicks = [0, 0.5, 1, 1.5, 2, 2.5, 3];
const eTicks = [0.04, 0.05, 0.06, 0.07, 0.08, 0.09];
const dTicks = [-4, -3, -2, -1, 0, 1, 2];
const cTicks = [50, 60, 70, 80, 90, 100];
const bTicks = [0, 100, 200, 300, 400];
const aTicks = [0, 2, 4, 6, 8];

// ---------------- layout / style ----------------
const AREA = { left: 95, right: 575, top: 63, bottom: 1328 };

function calib(v1: number, p1: number, v2: number, p2: number) {
  const k = (p2 - p1) / (v2 - v1);
  const vT = v1 + (AREA.top - p1) / k;
  const vB = v1 + (AREA.bottom - p1) / k;
  return vT > vB ? { min: vB, max: vT, reverse: false } : { min: vT, max: vB, reverse: true };
}

const C_G = '#1c72d8';
const C_F = '#d0390c';
const C_EG = '#1f9e3e';
const C_D = '#cc67a0';
const C_C = '#33c796';
const C_B = '#ff6868';
const C_A = '#ff1766';
const AX = '#6e6e6e';

type Seg = { t: string; sup?: boolean; it?: boolean };

function drawRich(ctx: CanvasRenderingContext2D, segs: Seg[], x: number, y: number, size: number, rot: number, color: string) {
  ctx.save();
  ctx.translate(x, y);
  ctx.rotate(rot);
  ctx.fillStyle = color;
  ctx.textBaseline = 'middle';
  ctx.textAlign = 'left';
  const f = (s: Seg) => `${s.it ? 'italic ' : ''}${s.sup ? Math.round(size * 0.62) : size}px ${FONT}`;
  let total = 0;
  const ws = segs.map((s) => {
    ctx.font = f(s);
    const w = ctx.measureText(s.t).width;
    total += w;
    return w;
  });
  let cx = -total / 2;
  segs.forEach((s, i) => {
    ctx.font = f(s);
    ctx.fillText(s.t, cx, s.sup ? -size * 0.36 : 0);
    cx += ws[i];
  });
  ctx.restore();
}

function text(ctx: CanvasRenderingContext2D, t: string, x: number, y: number, size: number, color: string, align: CanvasTextAlign = 'center', bold = false) {
  ctx.font = `${bold ? 'bold ' : ''}${size}px ${FONT}`;
  ctx.fillStyle = color;
  ctx.textAlign = align;
  ctx.textBaseline = 'middle';
  ctx.fillText(t, x, y);
}

function arrow(ctx: CanvasRenderingContext2D, x: number, yTop: number, yBot: number, color: string) {
  ctx.save();
  ctx.strokeStyle = color;
  ctx.lineWidth = 2;
  ctx.beginPath();
  ctx.moveTo(x, yBot);
  ctx.lineTo(x, yTop + 1);
  ctx.stroke();
  ctx.beginPath();
  ctx.moveTo(x - 5.5, yTop + 8);
  ctx.lineTo(x, yTop);
  ctx.lineTo(x + 5.5, yTop + 8);
  ctx.stroke();
  ctx.restore();
}

const notes = [
  { top: 'Warm', bottom: 'Greenland temp.', color: '#1010f5', xt: 205, xb: 200, yt: 187, a1: 205, a2: 233, yb: 249 },
  { top: 'Warm', bottom: 'WSTNA SST', color: '#d83a10', xt: 205, xb: 205, yt: 326, a1: 345, a2: 370, yb: 390 },
  { top: 'Strong', bottom: 'AMOC', color: '#12a03c', xt: 204, xb: 205, yt: 504, a1: 520, a2: 548, yb: 565 },
  { top: 'Strong', bottom: 'ISM intensity', color: C_D, xt: 204, xb: 206, yt: 629, a1: 647, a2: 675, yb: 695 },
  { top: 'Strong', bottom: 'ISM intensity', color: C_C, xt: 204, xb: 207, yt: 830, a1: 845, a2: 875, yb: 894 },
  { top: 'High', bottom: 'GISP2 dust input', color: C_B, xt: 204, xb: 200, yt: 957, a1: 975, a2: 1003, yb: 1017 },
  { top: 'High', bottom: 'KSB dust input', color: C_A, xt: 204, xb: 193, yt: 1115, a1: 1128, a2: 1158, yb: 1174 },
];

const letters = [
  ['G', 561, 177], ['F', 562, 345], ['E', 563, 544], ['D', 562, 647], ['C', 562, 827], ['B', 561, 948], ['A', 562, 1147],
];

const decor = {
  id: 'decor',
  beforeDatasetsDraw(chart: any) {
    const ctx: CanvasRenderingContext2D = chart.ctx;
    const x = chart.scales.x;
    const yA = chart.scales.yA;
    const { top, bottom } = chart.chartArea;
    ctx.save();
    ctx.fillStyle = '#d9d9d9';
    bandIntervals.forEach(([a, b]) => {
      const xa = x.getPixelForValue(a);
      const xb = x.getPixelForValue(b);
      ctx.fillRect(xa, top, xb - xa, bottom - top);
    });
    const y1 = yA.getPixelForValue(pboBreakTi[0]);
    const y2 = yA.getPixelForValue(pboBreakTi[1]);
    ctx.beginPath();
    ctx.moveTo(x.getPixelForValue(pboUpper[0]), top);
    ctx.lineTo(x.getPixelForValue(pboUpper[1]), top);
    ctx.lineTo(x.getPixelForValue(pboUpper[1]), y1);
    ctx.lineTo(x.getPixelForValue(pboLower[1]), y2);
    ctx.lineTo(x.getPixelForValue(pboLower[1]), bottom);
    ctx.lineTo(x.getPixelForValue(pboLower[0]), bottom);
    ctx.lineTo(x.getPixelForValue(pboLower[0]), y2);
    ctx.lineTo(x.getPixelForValue(pboUpper[0]), y1);
    ctx.closePath();
    ctx.fill();
    ctx.restore();
  },
  afterDatasetsDraw(chart: any) {
    const ctx: CanvasRenderingContext2D = chart.ctx;
    const x = chart.scales.x;
    const { top, bottom, left, right } = chart.chartArea;
    ctx.save();
    ctx.strokeStyle = AX;
    ctx.lineWidth = 1.3;

    // x axes (top and bottom)
    ctx.beginPath();
    ctx.moveTo(left, top); ctx.lineTo(right, top);
    ctx.moveTo(left, bottom); ctx.lineTo(right, bottom);
    for (let i = 0; i <= 60; i++) {
      const v = 7 + i * 0.2;
      const px = Math.round(x.getPixelForValue(v)) + 0.5;
      const major = i % 5 === 0;
      ctx.moveTo(px, top); ctx.lineTo(px, top - (major ? 11 : 6));
      ctx.moveTo(px, bottom); ctx.lineTo(px, bottom + (major ? 12 : 7));
    }
    ctx.stroke();
    ageTicks.forEach((v) => {
      text(ctx, String(v), x.getPixelForValue(v), 40, 21, '#000');
      text(ctx, String(v), x.getPixelForValue(v), 1360, 21, '#000');
    });
    text(ctx, 'Age (cal. ka BP)', 339, 14, 23, '#000');
    text(ctx, 'Age (cal. ka BP)', 339, 1389, 23, '#000');

    // y axes
    const yAxis = (id: string, ticks: number[], minor: number, side: 'l' | 'r', fmt: (v: number) => string) => {
      const s = chart.scales[id];
      const ax = side === 'l' ? left : 585;
      const dir = side === 'l' ? -1 : 1;
      const lo = Math.min(ticks[0], ticks[ticks.length - 1]);
      const hi = Math.max(ticks[0], ticks[ticks.length - 1]);
      ctx.beginPath();
      ctx.moveTo(ax, s.getPixelForValue(lo));
      ctx.lineTo(ax, s.getPixelForValue(hi));
      const n = Math.round((hi - lo) / minor);
      for (let i = 0; i <= n; i++) {
        const v = lo + i * minor;
        const py = Math.round(s.getPixelForValue(v)) + 0.5;
        const isMajor = ticks.some((t) => Math.abs(t - v) < minor / 10);
        ctx.moveTo(ax, py);
        ctx.lineTo(ax + dir * (isMajor ? 10 : 5), py);
      }
      ctx.stroke();
      ticks.forEach((t) => {
        text(ctx, fmt(t), side === 'l' ? 77 : 602, s.getPixelForValue(t) + 1, 21, '#000', side === 'l' ? 'right' : 'left');
      });
    };
    yAxis('yG', gTicks, 1, 'l', (v) => String(v));
    yAxis('yE', eTicks, 0.005, 'l', (v) => v.toFixed(2));
    yAxis('yC', cTicks, 5, 'l', (v) => String(v));
    yAxis('yA', aTicks, 1, 'l', (v) => String(v));
    yAxis('yF', fTicks, 0.25, 'r', (v) => String(v));
    yAxis('yD', dTicks, 0.5, 'r', (v) => String(v));
    yAxis('yB', bTicks, 50, 'r', (v) => String(v));
    ctx.restore();

    // axis titles
    const R = -Math.PI / 2;
    drawRich(ctx, [{ t: 'δ' }, { t: '18', sup: true }, { t: 'O(‰VSMOW)' }], 14, 206, 25, R, '#000');
    drawRich(ctx, [{ t: '231', sup: true }, { t: 'Pa/' }, { t: '230', sup: true }, { t: 'Th' }], 17, 497, 25, R, '#000');
    drawRich(ctx, [{ t: 'Reflectance (L' }, { t: '*', sup: true }, { t: ')' }], 13, 825, 25, R, '#000');
    drawRich(ctx, [{ t: 'Ti (10' }, { t: '3', sup: true }, { t: ' counts s' }, { t: '-1', sup: true }, { t: ')' }], 13, 1211, 25, R, '#000');
    drawRich(ctx, [{ t: 'G. inflata', it: true }, { t: ' ' }, { t: '18', sup: true }, { t: 'O (‰)' }], 664, 368, 25, R, '#000');
    drawRich(ctx, [{ t: 'δ' }, { t: '18', sup: true }, { t: 'O(‰VPDB)' }], 664, 712, 25, R, '#000');
    drawRich(ctx, [{ t: 'GISP2 [Ca' }, { t: '2+', sup: true }, { t: '] (ppb)' }], 663, 997, 25, R, '#000');

    // period labels
    periodLabels.forEach((l, i) => text(ctx, l, x.getPixelForValue(periodAges[i]), 92, 21, '#000'));
    verticalPeriodLabels.forEach((l, i) => {
      ctx.save();
      ctx.translate(x.getPixelForValue(verticalPeriodAges[i]), l === 'PBO' ? 102 : 107);
      ctx.rotate(R);
      text(ctx, l, 0, 0, 21, '#000');
      ctx.restore();
    });

    // annotations
    notes.forEach((n) => {
      text(ctx, n.top, n.xt, n.yt, 19, n.color);
      arrow(ctx, 204, n.a1, n.a2, n.color);
      text(ctx, n.bottom, n.xb, n.yb, 19, n.color);
    });

    letters.forEach(([l, lx, ly]) => text(ctx, l as string, lx as number, ly as number, 27, '#000', 'center', true));
  },
};

const toXY = (pairs: number[][]) => pairs.map(([a, v]) => ({ x: a, y: v }));

export default function App() {
  const ref = useRef<HTMLCanvasElement>(null);
  useEffect(() => {
    if (!ref.current) return;
    const line = (data: number[][], yAxisID: string, color: string, width = 1.5) => ({
      data: toXY(data), yAxisID, xAxisID: 'x', borderColor: color, borderWidth: width,
      pointRadius: 0, tension: 0, clip: false as any, fill: false,
    });
    const chart = new Chart(ref.current, {
      type: 'line',
      data: {
        datasets: [
          {
            data: toXY(paThGreen), yAxisID: 'yE', xAxisID: 'x', borderColor: C_EG, borderWidth: 2,
            pointStyle: 'rect', pointRadius: 6.3, pointBackgroundColor: '#ffffff', pointBorderColor: '#2aa84c',
            pointBorderWidth: 1.4, tension: 0, clip: false as any,
          },
          {
            data: toXY(paThRed), yAxisID: 'yE', xAxisID: 'x', borderColor: C_F, borderWidth: 2,
            pointStyle: 'circle', pointRadius: 4, pointBackgroundColor: C_F, pointBorderColor: C_F,
            pointBorderWidth: 1, tension: 0, clip: false as any,
          },
          line(greenlandD18O, 'yG', C_G, 1.5),
          line(inflataD18O, 'yF', C_F, 2),
          line(ismD18O, 'yD', C_D, 1.4),
          line(reflectance, 'yC', C_C, 2.4),
          line(gispCa, 'yB', C_B, 1.4),
          line(tiCounts, 'yA', C_A, 1.8),
        ] as any,
      },
      options: {
        animation: false,
        responsive: false,
        events: [],
        layout: { padding: { left: AREA.left, right: W - AREA.right, top: AREA.top, bottom: H - AREA.bottom } },
        plugins: { legend: { display: false }, tooltip: { enabled: false } },
        scales: {
          x: { type: 'linear', min: 7, max: 19, display: false },
          yG: { type: 'linear', display: false, ...calib(-32, 95, -44, 317) },
          yF: { type: 'linear', display: false, ...calib(0, 260, 3, 479) },
          yE: { type: 'linear', display: false, ...calib(0.04, 412, 0.09, 583) },
          yD: { type: 'linear', display: false, ...calib(-4, 608, 2, 817) },
          yC: { type: 'linear', display: false, ...calib(50, 727, 100, 923) },
          yB: { type: 'linear', display: false, ...calib(0, 1082, 400, 916) },
          yA: { type: 'linear', display: false, ...calib(0, 1328, 8, 1094) },
        } as any,
      },
      plugins: [decor],
    });
    return () => chart.destroy();
  }, []);
  return (
    <div style={{ position: 'fixed', left: 0, top: 0, width: W, height: H, background: '#fff' }}>
      <canvas ref={ref} width={W} height={H} style={{ display: 'block', width: W, height: H }} />
    </div>
  );
}
